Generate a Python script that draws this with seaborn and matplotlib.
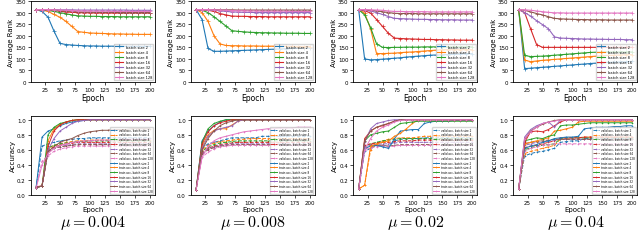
import numpy as np
import pandas as pd
import seaborn as sns
import matplotlib.pyplot as plt

# epochs at which rank / accuracy were logged
epochs = [10, 20, 30, 40, 50, 60, 70, 80, 90, 100,
          110, 120, 130, 140, 150, 160, 170, 180, 190, 200]

batch_sizes = [2, 4, 8, 16, 32, 64, 128]
mus = ["0.004", "0.008", "0.02", "0.04"]

# average rank, one list per batch size (2..128)
rank_004 = [
    [313, 305, 280, 220, 167, 162, 160, 158, 157, 156, 156, 155, 155, 155, 155, 154, 154, 154, 154, 154],
    [313, 311, 305, 292, 280, 262, 240, 218, 215, 212, 211, 210, 209, 208, 208, 207, 207, 206, 206, 206],
    [313, 312, 310, 305, 300, 295, 290, 286, 285, 284, 284, 283, 283, 283, 282, 282, 282, 282, 282, 282],
    [313, 313, 312, 310, 306, 303, 301, 300, 299, 299, 298, 298, 298, 298, 298, 298, 298, 298, 298, 298],
    [313, 313, 313, 313, 312, 312, 312, 311, 311, 311, 311, 311, 311, 311, 311, 311, 310, 310, 310, 310],
    [313, 313, 312, 311, 309, 307, 305, 303, 302, 302, 301, 301, 301, 301, 300, 300, 300, 300, 300, 300],
    [313, 313, 313, 312, 311, 310, 309, 308, 307, 307, 306, 306, 306, 305, 305, 305, 305, 305, 305, 305],
]
rank_008 = [
    [313, 270, 145, 133, 133, 134, 135, 136, 137, 138, 139, 140, 141, 142, 143, 144, 145, 146, 147, 148],
    [313, 300, 262, 200, 165, 158, 157, 157, 156, 156, 156, 155, 155, 155, 154, 154, 154, 153, 153, 153],
    [313, 310, 300, 282, 262, 242, 222, 219, 217, 215, 214, 213, 213, 212, 212, 211, 211, 211, 210, 210],
    [313, 312, 310, 305, 296, 290, 285, 284, 284, 283, 283, 283, 282, 282, 282, 282, 282, 282, 282, 282],
    [313, 313, 312, 310, 308, 305, 303, 302, 301, 301, 300, 300, 300, 300, 300, 300, 300, 300, 300, 300],
    [313, 313, 313, 313, 312, 312, 312, 311, 311, 311, 311, 311, 311, 311, 311, 311, 311, 311, 311, 311],
    [313, 313, 313, 312, 311, 310, 309, 308, 308, 307, 307, 306, 306, 306, 306, 306, 305, 305, 305, 305],
]
rank_02 = [
    [313, 100, 96, 97, 99, 101, 103, 105, 108, 110, 112, 114, 116, 117, 118, 119, 120, 121, 122, 123],
    [313, 298, 230, 123, 123, 124, 125, 127, 129, 130, 132, 134, 136, 138, 140, 140, 140, 140, 140, 140],
    [313, 290, 235, 165, 150, 149, 150, 150, 151, 151, 151, 152, 152, 152, 152, 152, 152, 152, 152, 152],
    [313, 308, 298, 270, 240, 210, 190, 188, 187, 186, 185, 184, 184, 183, 183, 182, 182, 181, 181, 181],
    [313, 310, 307, 300, 292, 283, 275, 274, 273, 272, 271, 271, 270, 270, 269, 269, 269, 268, 268, 268],
    [313, 312, 310, 307, 304, 300, 297, 296, 296, 296, 295, 295, 295, 295, 295, 295, 295, 295, 295, 295],
    [313, 313, 312, 311, 310, 307, 305, 305, 304, 304, 304, 304, 303, 303, 303, 303, 303, 303, 303, 303],
]
rank_04 = [
    [313, 58, 60, 62, 64, 66, 68, 70, 72, 74, 76, 78, 80, 82, 84, 85, 86, 87, 88, 89],
    [313, 95, 88, 91, 94, 96, 98, 100, 102, 104, 106, 108, 110, 112, 114, 115, 116, 117, 118, 119],
    [313, 115, 110, 111, 112, 114, 116, 118, 120, 122, 124, 126, 128, 129, 130, 130, 130, 130, 130, 130],
    [313, 300, 230, 162, 150, 150, 150, 150, 150, 150, 150, 150, 150, 150, 150, 150, 150, 150, 150, 150],
    [313, 300, 285, 265, 248, 230, 195, 190, 189, 188, 187, 186, 186, 185, 185, 184, 184, 184, 183, 183],
    [313, 310, 303, 296, 290, 282, 275, 273, 272, 271, 270, 270, 269, 269, 269, 268, 268, 268, 268, 268],
    [313, 312, 310, 307, 304, 301, 299, 299, 298, 298, 298, 298, 298, 298, 298, 298, 298, 298, 298, 298],
]

# validation accuracy (dashed) per batch size
valid_004 = [
    [0.10, 0.65, 0.68, 0.70, 0.72, 0.73, 0.74, 0.75, 0.75, 0.76, 0.76, 0.76, 0.76, 0.76, 0.76, 0.76, 0.76, 0.76, 0.76, 0.76],
    [0.10, 0.12, 0.62, 0.66, 0.68, 0.70, 0.71, 0.72, 0.72, 0.73, 0.73, 0.73, 0.73, 0.73, 0.73, 0.73, 0.73, 0.73, 0.73, 0.73],
    [0.10, 0.12, 0.63, 0.66, 0.68, 0.69, 0.70, 0.71, 0.71, 0.72, 0.72, 0.72, 0.72, 0.72, 0.72, 0.72, 0.72, 0.72, 0.72, 0.72],
    [0.11, 0.12, 0.60, 0.64, 0.66, 0.68, 0.69, 0.70, 0.70, 0.70, 0.70, 0.70, 0.70, 0.70, 0.70, 0.70, 0.70, 0.70, 0.70, 0.70],
    [0.10, 0.12, 0.58, 0.62, 0.64, 0.66, 0.67, 0.68, 0.68, 0.68, 0.68, 0.68, 0.68, 0.68, 0.68, 0.68, 0.68, 0.68, 0.68, 0.68],
    [0.10, 0.12, 0.58, 0.62, 0.64, 0.65, 0.66, 0.67, 0.67, 0.67, 0.67, 0.67, 0.67, 0.67, 0.67, 0.67, 0.67, 0.67, 0.67, 0.67],
    [0.09, 0.45, 0.52, 0.58, 0.61, 0.63, 0.64, 0.65, 0.65, 0.65, 0.65, 0.65, 0.65, 0.65, 0.65, 0.65, 0.65, 0.65, 0.65, 0.65],
]
valid_008 = [
    [0.07, 0.62, 0.68, 0.70, 0.72, 0.74, 0.76, 0.76, 0.76, 0.76, 0.76, 0.78, 0.78, 0.78, 0.78, 0.78, 0.78, 0.78, 0.78, 0.78],
    [0.07, 0.60, 0.66, 0.69, 0.71, 0.72, 0.73, 0.74, 0.74, 0.75, 0.75, 0.75, 0.75, 0.75, 0.75, 0.75, 0.75, 0.75, 0.75, 0.75],
    [0.07, 0.58, 0.64, 0.67, 0.69, 0.70, 0.71, 0.72, 0.72, 0.72, 0.72, 0.72, 0.72, 0.72, 0.72, 0.72, 0.72, 0.72, 0.72, 0.72],
    [0.07, 0.56, 0.62, 0.65, 0.67, 0.68, 0.69, 0.70, 0.70, 0.70, 0.70, 0.70, 0.70, 0.70, 0.70, 0.70, 0.70, 0.70, 0.70, 0.70],
    [0.07, 0.55, 0.61, 0.64, 0.66, 0.67, 0.68, 0.68, 0.68, 0.68, 0.68, 0.68, 0.68, 0.68, 0.68, 0.68, 0.68, 0.68, 0.68, 0.68],
    [0.07, 0.54, 0.60, 0.63, 0.65, 0.66, 0.67, 0.67, 0.67, 0.67, 0.67, 0.67, 0.67, 0.67, 0.67, 0.67, 0.67, 0.67, 0.67, 0.67],
    [0.07, 0.50, 0.57, 0.61, 0.64, 0.65, 0.66, 0.66, 0.66, 0.66, 0.66, 0.66, 0.66, 0.66, 0.66, 0.66, 0.66, 0.66, 0.66, 0.66],
]
valid_02 = [
    [0.08, 0.58, 0.62, 0.66, 0.66, 0.64, 0.72, 0.74, 0.75, 0.75, 0.75, 0.76, 0.76, 0.76, 0.76, 0.76, 0.76, 0.76, 0.76, 0.76],
    [0.08, 0.13, 0.60, 0.68, 0.72, 0.74, 0.75, 0.76, 0.76, 0.76, 0.77, 0.78, 0.78, 0.78, 0.78, 0.78, 0.78, 0.78, 0.78, 0.78],
    [0.08, 0.65, 0.68, 0.70, 0.72, 0.73, 0.74, 0.75, 0.75, 0.75, 0.75, 0.75, 0.75, 0.75, 0.75, 0.75, 0.75, 0.75, 0.75, 0.75],
    [0.08, 0.66, 0.68, 0.69, 0.70, 0.70, 0.71, 0.72, 0.72, 0.72, 0.73, 0.73, 0.73, 0.73, 0.73, 0.73, 0.73, 0.73, 0.73, 0.73],
    [0.08, 0.64, 0.66, 0.67, 0.68, 0.68, 0.69, 0.70, 0.70, 0.70, 0.70, 0.70, 0.70, 0.70, 0.70, 0.70, 0.70, 0.70, 0.70, 0.70],
    [0.08, 0.62, 0.65, 0.66, 0.66, 0.65, 0.66, 0.67, 0.67, 0.67, 0.67, 0.67, 0.67, 0.67, 0.67, 0.67, 0.67, 0.67, 0.67, 0.67],
    [0.08, 0.60, 0.63, 0.64, 0.65, 0.64, 0.65, 0.66, 0.66, 0.66, 0.66, 0.66, 0.66, 0.66, 0.66, 0.66, 0.66, 0.66, 0.66, 0.66],
]
valid_04 = [
    [0.08, 0.52, 0.55, 0.57, 0.58, 0.60, 0.62, 0.70, 0.71, 0.72, 0.72, 0.75, 0.75, 0.75, 0.75, 0.75, 0.75, 0.75, 0.75, 0.75],
    [0.08, 0.55, 0.58, 0.60, 0.62, 0.64, 0.66, 0.74, 0.75, 0.76, 0.76, 0.77, 0.77, 0.77, 0.77, 0.77, 0.77, 0.77, 0.77, 0.77],
    [0.08, 0.60, 0.63, 0.65, 0.66, 0.67, 0.68, 0.75, 0.76, 0.76, 0.76, 0.76, 0.76, 0.76, 0.76, 0.76, 0.76, 0.76, 0.76, 0.76],
    [0.08, 0.63, 0.65, 0.66, 0.68, 0.70, 0.72, 0.76, 0.76, 0.76, 0.76, 0.77, 0.77, 0.77, 0.77, 0.77, 0.77, 0.77, 0.77, 0.77],
    [0.08, 0.66, 0.68, 0.70, 0.71, 0.72, 0.73, 0.74, 0.74, 0.74, 0.74, 0.74, 0.74, 0.74, 0.74, 0.74, 0.74, 0.74, 0.74, 0.74],
    [0.08, 0.68, 0.70, 0.71, 0.72, 0.73, 0.74, 0.74, 0.74, 0.74, 0.74, 0.74, 0.74, 0.74, 0.74, 0.74, 0.74, 0.74, 0.74, 0.74],
    [0.08, 0.58, 0.62, 0.64, 0.66, 0.67, 0.68, 0.68, 0.68, 0.68, 0.68, 0.68, 0.68, 0.68, 0.68, 0.68, 0.68, 0.68, 0.68, 0.68],
]

# training accuracy (solid) per batch size
train_004 = [
    [0.10, 0.77, 0.85, 0.88, 0.92, 0.95, 0.97, 0.98, 0.99, 1.00, 1.00, 1.00, 1.00, 1.00, 1.00, 1.00, 1.00, 1.00, 1.00, 1.00],
    [0.10, 0.12, 0.72, 0.88, 0.94, 0.97, 0.99, 1.00, 1.00, 1.00, 1.00, 1.00, 1.00, 1.00, 1.00, 1.00, 1.00, 1.00, 1.00, 1.00],
    [0.10, 0.12, 0.80, 0.90, 0.95, 0.97, 0.99, 1.00, 1.00, 1.00, 1.00, 1.00, 1.00, 1.00, 1.00, 1.00, 1.00, 1.00, 1.00, 1.00],
    [0.11, 0.12, 0.65, 0.85, 0.93, 0.97, 0.99, 1.00, 1.00, 1.00, 1.00, 1.00, 1.00, 1.00, 1.00, 1.00, 1.00, 1.00, 1.00, 1.00],
    [0.10, 0.12, 0.60, 0.75, 0.85, 0.90, 0.95, 0.98, 0.99, 1.00, 1.00, 1.00, 1.00, 1.00, 1.00, 1.00, 1.00, 1.00, 1.00, 1.00],
    [0.10, 0.12, 0.58, 0.64, 0.70, 0.73, 0.75, 0.79, 0.82, 0.84, 0.85, 0.86, 0.86, 0.87, 0.87, 0.87, 0.88, 0.88, 0.88, 0.88],
    [0.09, 0.40, 0.55, 0.62, 0.66, 0.68, 0.70, 0.71, 0.72, 0.72, 0.73, 0.73, 0.73, 0.73, 0.74, 0.74, 0.74, 0.74, 0.74, 0.74],
]
train_008 = [
    [0.07, 0.72, 0.85, 0.92, 0.97, 1.00, 1.00, 1.00, 1.00, 1.00, 1.00, 1.00, 1.00, 1.00, 1.00, 1.00, 1.00, 1.00, 1.00, 1.00],
    [0.07, 0.65, 0.80, 0.86, 0.88, 0.88, 0.93, 0.98, 1.00, 1.00, 1.00, 1.00, 1.00, 1.00, 1.00, 1.00, 1.00, 1.00, 1.00, 1.00],
    [0.07, 0.70, 0.88, 0.95, 0.98, 1.00, 1.00, 1.00, 1.00, 1.00, 1.00, 1.00, 1.00, 1.00, 1.00, 1.00, 1.00, 1.00, 1.00, 1.00],
    [0.07, 0.68, 0.84, 0.92, 0.96, 0.98, 1.00, 1.00, 1.00, 1.00, 1.00, 1.00, 1.00, 1.00, 1.00, 1.00, 1.00, 1.00, 1.00, 1.00],
    [0.07, 0.62, 0.78, 0.85, 0.88, 0.90, 0.92, 0.98, 1.00, 1.00, 1.00, 1.00, 1.00, 1.00, 1.00, 1.00, 1.00, 1.00, 1.00, 1.00],
    [0.07, 0.60, 0.75, 0.85, 0.92, 0.96, 0.98, 1.00, 1.00, 1.00, 1.00, 1.00, 1.00, 1.00, 1.00, 1.00, 1.00, 1.00, 1.00, 1.00],
    [0.07, 0.50, 0.65, 0.72, 0.76, 0.78, 0.80, 0.82, 0.84, 0.85, 0.86, 0.87, 0.88, 0.88, 0.89, 0.89, 0.89, 0.90, 0.90, 0.90],
]
train_02 = [
    [0.08, 0.62, 0.65, 0.66, 0.64, 0.62, 0.75, 0.85, 0.86, 0.87, 0.87, 0.95, 0.97, 0.98, 0.98, 0.98, 0.99, 0.99, 0.99, 0.99],
    [0.08, 0.13, 0.65, 0.68, 0.70, 0.72, 0.78, 0.82, 0.88, 0.95, 1.00, 1.00, 1.00, 1.00, 1.00, 1.00, 1.00, 1.00, 1.00, 1.00],
    [0.08, 0.72, 0.80, 0.82, 0.84, 0.85, 0.90, 0.95, 0.96, 0.97, 0.98, 0.98, 0.98, 0.98, 0.98, 0.98, 0.98, 0.98, 0.98, 0.98],
    [0.08, 0.75, 0.85, 0.90, 0.92, 0.95, 0.98, 1.00, 1.00, 1.00, 1.00, 1.00, 1.00, 1.00, 1.00, 1.00, 1.00, 1.00, 1.00, 1.00],
    [0.08, 0.70, 0.88, 0.95, 0.97, 0.99, 1.00, 1.00, 1.00, 1.00, 1.00, 1.00, 1.00, 1.00, 1.00, 1.00, 1.00, 1.00, 1.00, 1.00],
    [0.08, 0.72, 0.85, 0.90, 0.93, 0.95, 0.98, 1.00, 1.00, 1.00, 1.00, 1.00, 1.00, 1.00, 1.00, 1.00, 1.00, 1.00, 1.00, 1.00],
    [0.08, 0.60, 0.75, 0.85, 0.90, 0.93, 0.97, 0.99, 1.00, 1.00, 1.00, 1.00, 1.00, 1.00, 1.00, 1.00, 1.00, 1.00, 1.00, 1.00],
]
train_04 = [
    [0.08, 0.62, 0.65, 0.67, 0.70, 0.72, 0.75, 0.76, 0.77, 0.77, 0.78, 0.88, 0.89, 0.90, 0.90, 0.90, 0.91, 0.91, 0.92, 0.92],
    [0.08, 0.68, 0.70, 0.72, 0.74, 0.76, 0.85, 0.86, 0.88, 0.90, 0.97, 0.98, 0.98, 0.98, 0.98, 0.98, 0.98, 0.98, 0.98, 0.98],
    [0.08, 0.72, 0.74, 0.76, 0.75, 0.78, 0.80, 0.92, 0.93, 0.93, 0.94, 0.95, 0.96, 0.96, 0.96, 0.96, 0.96, 0.96, 0.96, 0.96],
    [0.08, 0.70, 0.84, 0.85, 0.84, 0.87, 0.92, 0.97, 1.00, 1.00, 1.00, 1.00, 1.00, 1.00, 1.00, 1.00, 1.00, 1.00, 1.00, 1.00],
    [0.08, 0.77, 0.87, 0.92, 0.95, 0.97, 0.90, 1.00, 1.00, 1.00, 1.00, 1.00, 1.00, 1.00, 1.00, 1.00, 1.00, 1.00, 1.00, 1.00],
    [0.08, 0.74, 0.85, 0.90, 0.94, 0.97, 0.99, 1.00, 1.00, 1.00, 1.00, 1.00, 1.00, 1.00, 1.00, 1.00, 1.00, 1.00, 1.00, 1.00],
    [0.08, 0.75, 0.84, 0.90, 0.95, 0.97, 0.98, 1.00, 1.00, 1.00, 1.00, 1.00, 1.00, 1.00, 1.00, 1.00, 1.00, 1.00, 1.00, 1.00],
]

ranks = [rank_004, rank_008, rank_02, rank_04]
valids = [valid_004, valid_008, valid_02, valid_04]
trains = [train_004, train_008, train_02, train_04]

colors = sns.color_palette("tab10", 7)
plt.rcParams['mathtext.fontset'] = 'cm'

fig = plt.figure(figsize=(6.4, 2.51), dpi=100)
lefts = [0.048, 0.298, 0.552, 0.802]
w = 0.194

for i in range(4):
    # average rank
    ax = fig.add_axes([lefts[i], 0.669, w, 0.323])
    for j, bs in enumerate(batch_sizes):
        sns.lineplot(x=epochs, y=ranks[i][j], color=colors[j], marker='+',
                     markersize=2.5, markeredgewidth=0.5, markeredgecolor=colors[j],
                     linewidth=0.8, label="batch size %d" % bs, ax=ax)
    ax.set_ylim(0, 350)
    ax.set_yticks(range(0, 351, 50))
    ax.set_xlim(1, 209)
    ax.set_xticks(range(25, 201, 25))
    ax.tick_params(labelsize=4, length=2, width=0.5, pad=1.5)
    ax.set_xlabel("Epoch", fontsize=5.5, labelpad=1)
    ax.set_ylabel("Average Rank", fontsize=5, labelpad=1)
    ax.legend(loc="lower right", fontsize=2.6, handlelength=2.2,
              labelspacing=0.3, borderpad=0.3, framealpha=0.8)

    # accuracy
    ax2 = fig.add_axes([lefts[i], 0.219, w, 0.315])
    for j, bs in enumerate(batch_sizes):
        sns.lineplot(x=epochs, y=valids[i][j], color=colors[j], marker='+',
                     markersize=2, markeredgewidth=0.4, markeredgecolor=colors[j],
                     linewidth=0.7, linestyle='--',
                     label="valid acc, batch size %d" % bs, ax=ax2)
    for j, bs in enumerate(batch_sizes):
        sns.lineplot(x=epochs, y=trains[i][j], color=colors[j], marker='+',
                     markersize=2, markeredgewidth=0.4, markeredgecolor=colors[j],
                     linewidth=0.7, label="train acc, batch size %d" % bs, ax=ax2)
    ax2.set_ylim(0, 1.05)
    ax2.set_yticks([0.0, 0.2, 0.4, 0.6, 0.8, 1.0])
    ax2.set_xlim(1, 209)
    ax2.set_xticks(range(25, 201, 25))
    ax2.tick_params(labelsize=4, length=2, width=0.5, pad=1.5)
    ax2.set_xlabel("Epoch", fontsize=5, labelpad=1)
    ax2.set_ylabel("Accuracy", fontsize=5, labelpad=1)
    ax2.legend(loc="lower right", fontsize=2, handlelength=2.2,
               labelspacing=0.25, borderpad=0.3, framealpha=0.8)

    for a in (ax, ax2):
        for s in a.spines.values():
            s.set_linewidth(0.6)

    fig.text(lefts[i] + w / 2, 0.112, r"$\mu = %s$" % mus[i], fontsize=11.5,
             ha="center", va="center")

fig.savefig("out.png", dpi=100)
